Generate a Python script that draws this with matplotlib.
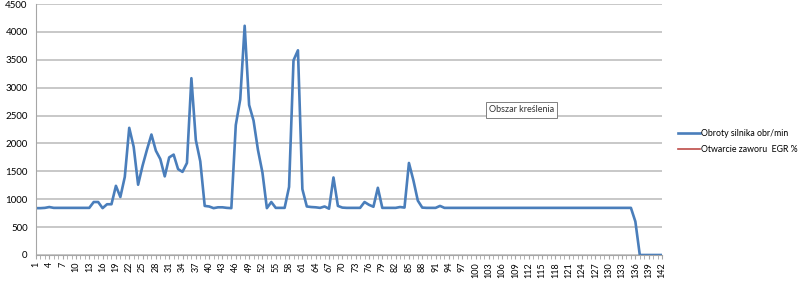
import matplotlib
matplotlib.use('Agg')
import matplotlib.pyplot as plt
from matplotlib.ticker import MultipleLocator

plt.rcParams['font.family'] = ['Lato', 'DejaVu Sans']

# Obroty silnika (rpm), one reading per sample 1..142
rpm = [
    840, 840, 845, 860, 845, 845, 845, 845, 845, 845,
    845, 845, 845, 950, 950, 840, 910, 910, 1240, 1040,
    1400, 2280, 1940, 1260, 1600, 1890, 2160, 1870, 1720, 1410,
    1750, 1800, 1540, 1490, 1650, 3170, 2060, 1680, 880, 870,
    840, 855, 855, 845, 840, 2330, 2790, 4110, 2690, 2410,
    1880, 1480, 840, 950, 845, 845, 845, 1220, 3490, 3670,
    1180, 870, 860, 855, 845, 870, 830, 1390, 880, 850,
    845, 845, 845, 845, 950, 900, 865, 1205, 845, 845,
    845, 845, 860, 850, 1650, 1340, 975, 850, 845, 845,
    845, 880, 845, 845, 845, 845, 845, 845, 845, 845,
    845, 845, 845, 845, 845, 845, 845, 845, 845, 845,
    845, 845, 845, 845, 845, 845, 845, 845, 845, 845,
    845, 845, 845, 845, 845, 845, 845, 845, 845, 845,
    845, 845, 845, 845, 845, 600, 0, 0, 0, 0,
    0, 0,
]
samples = list(range(1, len(rpm) + 1))
# EGR series has no visible values in the chart
egr = []

fig = plt.figure(figsize=(8, 2.87), dpi=100)
ax = fig.add_axes([0.045, 0.1115, 0.7825, 0.8745])

ax.plot(samples, rpm, color='#4A7EBB', lw=1.9, label='Obroty silnika obr/min',
        solid_joinstyle='round')
ax.plot(samples[:len(egr)], egr, color='#BE4B48', lw=1.2,
        label='Otwarcie zaworu  EGR %')

ax.set_xlim(1, 142)
ax.set_ylim(0, 4500)
ax.yaxis.set_major_locator(MultipleLocator(500))
ax.set_xticks(samples[::3])
ax.set_xticks(samples, minor=True)
ax.set_xticklabels([str(s) for s in samples[::3]], rotation=90)

ax.grid(axis='y', color='#BFBFBF', lw=1.2)
ax.set_axisbelow(True)
for side in ('top', 'right'):
    ax.spines[side].set_visible(False)
for side in ('left', 'bottom'):
    ax.spines[side].set_color('#A6A6A6')
ax.tick_params(axis='x', which='both', length=3, color='#A6A6A6',
               labelsize=6.5, pad=2)
ax.tick_params(axis='y', length=0, labelsize=7, pad=6)

fig.legend(*ax.get_legend_handles_labels(), loc='center left',
           bbox_to_anchor=(678 / 800, (287 - 141.5) / 287), frameon=False,
           fontsize=6.3, handlelength=2.5, handletextpad=0.1,
           labelspacing=0.75, borderpad=0, borderaxespad=0)

ax.text(0.776, 0.578, 'Obszar kreślenia', transform=ax.transAxes,
        fontsize=6.5, ha='center', va='center', color='#333333',
        bbox=dict(boxstyle='square,pad=0.35', fc='white', ec='#808080',
                  lw=0.7))

fig.savefig('out.png', dpi=100)
